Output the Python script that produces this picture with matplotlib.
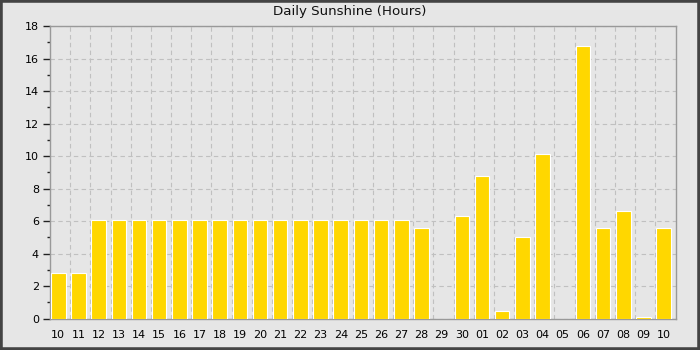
import matplotlib
matplotlib.use("Agg")
import matplotlib.pyplot as plt
from matplotlib.patches import Rectangle
from matplotlib.ticker import MultipleLocator, FixedLocator

days = ["10", "11", "12", "13", "14", "15", "16", "17", "18", "19", "20",
        "21", "22", "23", "24", "25", "26", "27", "28", "29", "30",
        "01", "02", "03", "04", "05", "06", "07", "08", "09", "10"]
sunshine = [2.8, 2.8, 6.1, 6.1, 6.1, 6.1, 6.1, 6.1, 6.1, 6.1, 6.1,
            6.1, 6.1, 6.1, 6.1, 6.1, 6.1, 6.1, 5.6, 0.0, 6.3,
            8.8, 0.5, 5.0, 10.1, 0.0, 16.8, 5.6, 6.6, 0.1, 5.6]

bg = "#e6e6e6"
fig = plt.figure(figsize=(7, 3.5), dpi=100, facecolor=bg)
fig.patches.append(Rectangle((0, 0), 1, 1, transform=fig.transFigure,
                             fill=False, edgecolor="#444444", linewidth=4))
ax = fig.add_axes([50 / 700, 31.3 / 350, 625.5 / 700, 292.7 / 350])
ax.set_facecolor(bg)

x = list(range(len(days)))
ax.bar([i + 0.05 for i in x], sunshine, width=0.72, align="edge",
       color="#ffd700", edgecolor="#ffffff", linewidth=0.8, zorder=3)

ax.set_xlim(0, len(days))
ax.set_ylim(0, 18)
ax.set_xticks([i + 0.41 for i in x])
ax.set_xticklabels(days)
ax.xaxis.set_minor_locator(FixedLocator(list(range(1, len(days)))))
ax.yaxis.set_major_locator(MultipleLocator(2))
ax.yaxis.set_minor_locator(MultipleLocator(1))

ax.grid(True, which="minor", axis="x", color="#c0c0c0", linestyle="--",
        linewidth=0.8, dashes=(4, 3), zorder=0)
ax.grid(True, which="major", axis="y", color="#c0c0c0", linestyle="--",
        linewidth=0.8, dashes=(4, 3), zorder=0)

ax.tick_params(axis="x", which="both", length=0, labelsize=8, pad=8)
ax.tick_params(axis="y", which="major", length=5, width=1, color="#222222",
               labelsize=8, pad=3)
ax.tick_params(axis="y", which="minor", length=2.5, width=1, color="#222222")

for s in ax.spines.values():
    s.set_color("#999999")
    s.set_linewidth(1)

fig.text(0.5, 1 - 12 / 350, "Daily Sunshine (Hours)", ha="center", va="center",
         fontsize=9.6, color="#111111")

fig.savefig("out.png", dpi=100, facecolor=bg)
